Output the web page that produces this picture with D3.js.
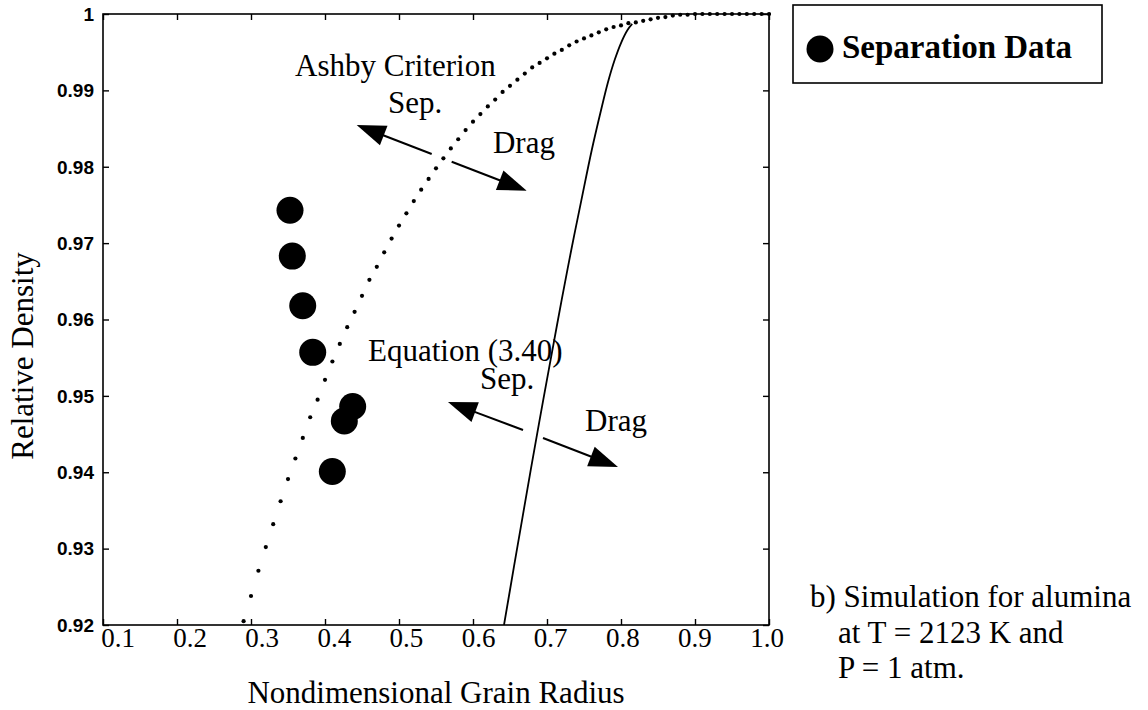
<!DOCTYPE html>
<html>
<head>
<meta charset="utf-8">
<script src="https://cdn.jsdelivr.net/npm/d3@7"></script>
<style>
  html, body { margin: 0; padding: 0; background: #fff; }
  svg { display: block; }
  .serif { font-family: "Liberation Serif", "Times New Roman", Times, serif; fill: #000; }
  .sans { font-family: "Liberation Sans", Arial, Helvetica, sans-serif; fill: #000; }
</style>
</head>
<body>
<svg id="chart" width="1148" height="710"></svg>
<script>
// Axis ticks and labels
const xTicks = [0.1, 0.2, 0.3, 0.4, 0.5, 0.6, 0.7, 0.8, 0.9, 1.0];
const xTickLabels = ["0.1", "0.2", "0.3", "0.4", "0.5", "0.6", "0.7", "0.8", "0.9", "1.0"];
const yTicks = [0.92, 0.93, 0.94, 0.95, 0.96, 0.97, 0.98, 0.99, 1.0];
const yTickLabels = ["0.92", "0.93", "0.94", "0.95", "0.96", "0.97", "0.98", "0.99", "1"];

// Ashby criterion (dotted): grain radius vs relative density
const ashbyRadius = [
  0.29, 0.30, 0.31, 0.32, 0.33, 0.34, 0.35, 0.36, 0.37, 0.38, 0.39,
  0.40, 0.41, 0.42, 0.43, 0.44, 0.45, 0.46, 0.47, 0.48, 0.49,
  0.50, 0.51, 0.52, 0.53, 0.54, 0.55, 0.56, 0.57, 0.58, 0.59,
  0.60, 0.61, 0.62, 0.63, 0.64, 0.65, 0.66, 0.67, 0.68, 0.69,
  0.70, 0.71, 0.72, 0.73, 0.74, 0.75, 0.76, 0.77, 0.78, 0.79,
  0.80, 0.81, 0.82, 0.83, 0.84, 0.85, 0.86, 0.87, 0.88, 0.89,
  0.90, 0.91, 0.92, 0.93, 0.94, 0.95, 0.96, 0.97, 0.98, 0.99, 1.00
];
const ashbyDensity = [
  0.9205, 0.9238, 0.9271, 0.9302, 0.9332, 0.9362, 0.9391, 0.9418, 0.9445, 0.9472, 0.9495,
  0.9521, 0.9545, 0.9568, 0.9590, 0.9610, 0.9631, 0.9652, 0.9669, 0.9688, 0.9706,
  0.9723, 0.9739, 0.9755, 0.9770, 0.9784, 0.9798, 0.9811, 0.9824, 0.9836, 0.9848,
  0.9859, 0.9869, 0.9879, 0.9888, 0.9898, 0.9906, 0.9914, 0.9922, 0.9930, 0.9936,
  0.9942, 0.9948, 0.9953, 0.9959, 0.9964, 0.9968, 0.9972, 0.9976, 0.9980, 0.9983,
  0.9985, 0.9988, 0.9989, 0.9991, 0.9993, 0.9995, 0.9996, 0.9998, 0.9999, 0.9999,
  1.0000, 1.0000, 1.0000, 1.0000, 1.0000, 1.0000, 1.0000, 1.0000, 1.0000, 1.0000, 1.0000
];

// Equation (3.40) boundary (solid)
const eqRadius = [0.6419, 0.6553, 0.6669, 0.6764, 0.6859, 0.6950, 0.7073, 0.7199, 0.7328,
                  0.7464, 0.7605, 0.7730, 0.7822, 0.7915, 0.8000, 0.8088, 0.8151];
const eqDensity = [0.9200, 0.9276, 0.9341, 0.9394, 0.9446, 0.9495, 0.9560, 0.9626, 0.9691,
                   0.9756, 0.9822, 0.9874, 0.9910, 0.9940, 0.9962, 0.9979, 0.9987];

// Measured separation data
const sepRadius = [0.3527, 0.3558, 0.3699, 0.3834, 0.4374, 0.4261, 0.4099];
const sepDensity = [0.9743, 0.9683, 0.9618, 0.9557, 0.9486, 0.9467, 0.9401];

// Region annotations (data coordinates)
const annotationText = ["Ashby Criterion", "Sep.", "Drag", "Equation (3.40)", "Sep.", "Drag"];
const annotationX = [0.3595, 0.4851, 0.6270, 0.4581, 0.6095, 0.7514];
const annotationY = [0.99188, 0.98704, 0.98180, 0.95457, 0.95090, 0.94540];

// Direction arrows: tail and tip in data coordinates
const arrowTailX = [0.5442, 0.5712, 0.6676, 0.6946];
const arrowTailY = [0.98167, 0.98066, 0.94553, 0.94448];
const arrowTipX  = [0.4428, 0.6726, 0.5662, 0.7959];
const arrowTipY  = [0.98547, 0.97686, 0.94920, 0.94069];

const legendLabel = "Separation Data";
const noteLines = ["b) Simulation for alumina", "at T = 2123 K and", "P = 1 atm."];

// ---- layout ----
const svg = d3.select("#chart");
const plot = { left: 103, right: 769, top: 14, bottom: 625 };

const x = d3.scaleLinear().domain([0.1, 1.0]).range([plot.left, plot.right]);
const y = d3.scaleLinear().domain([0.92, 1.0]).range([plot.bottom, plot.top]);
// tick labels sit slightly right of their ticks on the left side of the axis
const xLabel = d3.scaleLinear().domain([0.1, 1.0]).range([118, 767]);

svg.append("defs").append("clipPath").attr("id", "plotClip")
  .append("rect")
  .attr("x", plot.left).attr("y", plot.top - 4)
  .attr("width", plot.right - plot.left + 2).attr("height", plot.bottom - plot.top + 4);

const tickLen = 6;
const axisStroke = 1.6;

// inside ticks on all four sides
const gAxes = svg.append("g");
gAxes.append("g")
  .attr("transform", `translate(0,${plot.bottom})`)
  .call(d3.axisTop(x).tickValues(xTicks).tickSize(tickLen).tickFormat(""))
  .call(g => g.select(".domain").remove());
gAxes.append("g")
  .attr("transform", `translate(0,${plot.top})`)
  .call(d3.axisBottom(x).tickValues(xTicks).tickSize(tickLen).tickFormat(""))
  .call(g => g.select(".domain").remove());
gAxes.append("g")
  .attr("transform", `translate(${plot.left},0)`)
  .call(d3.axisRight(y).tickValues(yTicks).tickSize(tickLen).tickFormat(""))
  .call(g => g.select(".domain").remove());
gAxes.append("g")
  .attr("transform", `translate(${plot.right},0)`)
  .call(d3.axisLeft(y).tickValues(yTicks).tickSize(tickLen).tickFormat(""))
  .call(g => g.select(".domain").remove());
gAxes.selectAll(".tick line").attr("stroke", "#000").attr("stroke-width", 1.4);

gAxes.append("rect")
  .attr("x", plot.left).attr("y", plot.top)
  .attr("width", plot.right - plot.left).attr("height", plot.bottom - plot.top)
  .attr("fill", "none").attr("stroke", "#000").attr("stroke-width", axisStroke);

// tick labels
svg.append("g").selectAll("text").data(xTicks).join("text")
  .attr("class", "serif")
  .attr("x", d => xLabel(d))
  .attr("y", 647)
  .attr("text-anchor", "middle")
  .attr("font-size", 27)
  .text((d, i) => xTickLabels[i]);

svg.append("g").selectAll("text").data(yTicks).join("text")
  .attr("class", "sans")
  .attr("x", plot.left - 9)
  .attr("y", d => y(d))
  .attr("dy", "0.36em")
  .attr("text-anchor", "end")
  .attr("font-size", 19)
  .attr("font-weight", "bold")
  .text((d, i) => yTickLabels[i]);

// axis titles
svg.append("text").attr("class", "serif")
  .attr("x", (plot.left + plot.right) / 2).attr("y", 703)
  .attr("text-anchor", "middle").attr("font-size", 31)
  .text("Nondimensional Grain Radius");

svg.append("text").attr("class", "serif")
  .attr("transform", "translate(33,356) rotate(-90)")
  .attr("text-anchor", "middle").attr("font-size", 31)
  .text("Relative Density");

// ---- data marks ----
const gData = svg.append("g").attr("clip-path", "url(#plotClip)");

const eqPts = eqRadius.map((r, i) => [r, eqDensity[i]]);
gData.append("path")
  .datum(eqPts)
  .attr("fill", "none").attr("stroke", "#000").attr("stroke-width", 1.8)
  .attr("d", d3.line().x(d => x(d[0])).y(d => y(d[1])).curve(d3.curveCatmullRom.alpha(0.5)));

const ashbyPts = ashbyRadius.map((r, i) => [r, ashbyDensity[i]]);
gData.append("g").selectAll("circle").data(ashbyPts).join("circle")
  .attr("cx", d => x(d[0])).attr("cy", d => y(d[1]))
  .attr("r", 2.1).attr("fill", "#000");

const sepPts = sepRadius.map((r, i) => [r, sepDensity[i]]);
gData.append("g").selectAll("circle").data(sepPts).join("circle")
  .attr("cx", d => x(d[0])).attr("cy", d => y(d[1]))
  .attr("r", 13.5).attr("fill", "#000");

// ---- annotations ----
svg.append("g").selectAll("text").data(annotationText).join("text")
  .attr("class", "serif")
  .attr("x", (d, i) => x(annotationX[i]))
  .attr("y", (d, i) => y(annotationY[i]))
  .attr("font-size", 31)
  .text(d => d);

const headLen = 29, headHalf = 10.5;
const gArrows = svg.append("g");
arrowTailX.forEach((tx, i) => {
  const x0 = x(tx), y0 = y(arrowTailY[i]);
  const x1 = x(arrowTipX[i]), y1 = y(arrowTipY[i]);
  const dx = x1 - x0, dy = y1 - y0, len = Math.hypot(dx, dy);
  const ux = dx / len, uy = dy / len;
  const bx = x1 - ux * headLen, by = y1 - uy * headLen;
  gArrows.append("line")
    .attr("x1", x0).attr("y1", y0).attr("x2", bx + ux * 2).attr("y2", by + uy * 2)
    .attr("stroke", "#000").attr("stroke-width", 2);
  gArrows.append("path")
    .attr("d", `M${x1},${y1} L${bx - uy * headHalf},${by + ux * headHalf} L${bx + uy * headHalf},${by - ux * headHalf} Z`)
    .attr("fill", "#000");
});

// ---- legend ----
const gLeg = svg.append("g");
gLeg.append("rect")
  .attr("x", 793).attr("y", 5).attr("width", 309).attr("height", 78)
  .attr("fill", "#fff").attr("stroke", "#000").attr("stroke-width", 1.6);
gLeg.append("circle").attr("cx", 820).attr("cy", 49).attr("r", 13.5).attr("fill", "#000");
gLeg.append("text").attr("class", "serif")
  .attr("x", 842).attr("y", 58)
  .attr("font-size", 33).attr("font-weight", "bold")
  .text(legendLabel);

// ---- note ----
const noteX = [810, 838, 838];
const noteY = [607, 643, 678];
svg.append("g").selectAll("text").data(noteLines).join("text")
  .attr("class", "serif")
  .attr("x", (d, i) => noteX[i]).attr("y", (d, i) => noteY[i])
  .attr("font-size", 31)
  .text(d => d);
</script>
</body>
</html>
